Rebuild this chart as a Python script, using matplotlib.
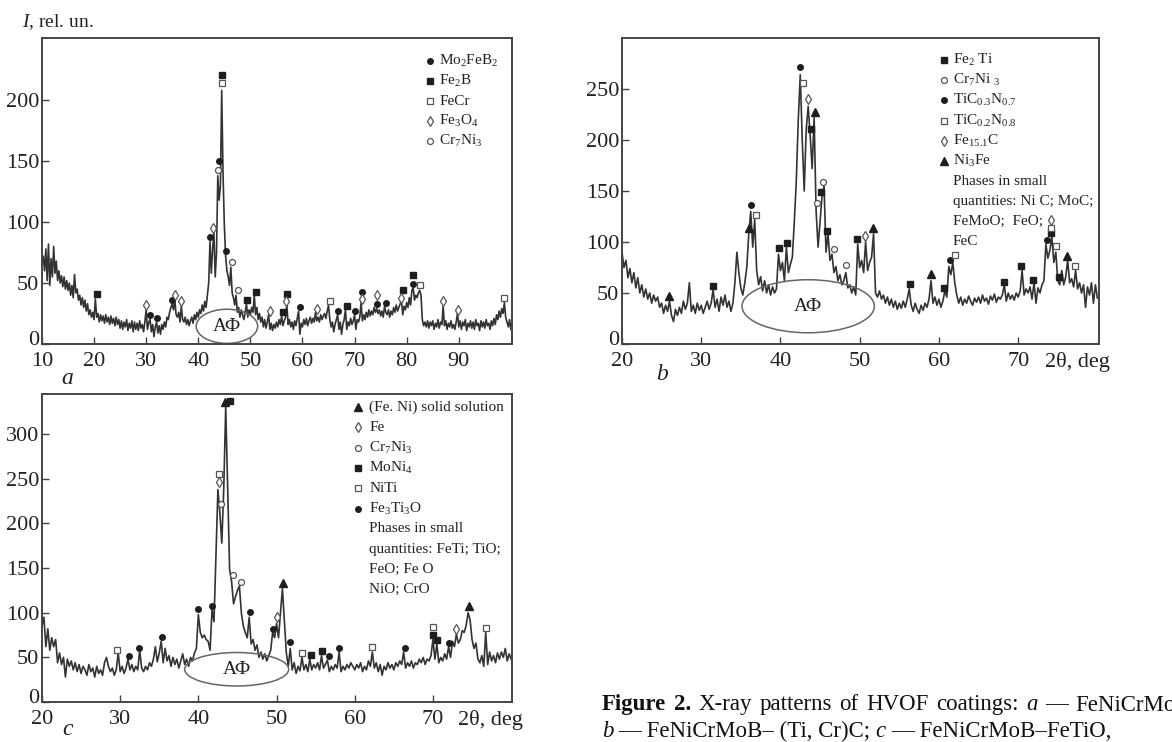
import numpy as np
import matplotlib
matplotlib.use('Agg')
from matplotlib import pyplot as plt
from matplotlib.patches import Ellipse
from matplotlib.transforms import ScaledTranslation

plt.rcParams['font.family'] = ['Liberation Serif', 'DejaVu Serif']
plt.rcParams['mathtext.fontset'] = 'custom'
plt.rcParams['mathtext.rm'] = 'Liberation Serif'
plt.rcParams['mathtext.it'] = 'Liberation Serif:italic'
plt.rcParams['mathtext.bf'] = 'Liberation Serif:bold'
plt.rcParams['mathtext.default'] = 'regular'

# ---------------- panel a: intensity every 0.25 deg from 10 deg ----------------
a_start, a_step = 10.0, 0.25
a_counts = [
    65, 72, 60, 78, 52, 82, 48, 70, 55, 80, 58, 68, 52, 60, 50, 56, 47, 55, 45, 52,
    44, 50, 40, 48, 38, 57, 42, 45, 36, 40, 32, 38, 30, 36, 27, 33, 24, 28, 22, 26,
    20, 37, 22, 25, 18, 24, 19, 23, 17, 24, 18, 22, 16, 23, 17, 21, 15, 22, 16, 20,
    13, 19, 12, 18, 14, 20, 11, 17, 13, 19, 10, 18, 12, 17, 11, 19, 13, 16, 10, 18,
    28, 12, 18, 20, 10, 16, 6, 14, 18, 9, 15, 8, 16, 12, 18, 14, 22, 20, 26, 30,
    33, 28, 36, 24, 22, 26, 18, 31, 20, 18, 22, 16, 20, 15, 19, 22, 17, 24, 20, 26,
    22, 28, 25, 32, 27, 35, 30, 40, 50, 84, 58, 78, 91, 55, 75, 138, 118, 130, 208, 140,
    98, 72, 60, 55, 48, 63, 42, 38, 32, 40, 26, 30, 22, 28, 24, 20, 26, 33, 22, 28,
    24, 30, 26, 40, 24, 30, 20, 25, 18, 22, 14, 20, 13, 18, 24, 12, 17, 11, 16, 13,
    18, 14, 20, 16, 23, 15, 19, 22, 32, 16, 20, 14, 18, 12, 19, 15, 21, 27, 8, 17,
    14, 20, 16, 21, 15, 19, 22, 17, 21, 18, 26, 19, 22, 18, 24, 20, 23, 25, 21, 27,
    32, 20, 14, 18, 10, 16, 20, 24, 12, 18, 8, 16, 20, 28, 12, 18, 15, 21, 16, 19,
    24, 12, 20, 18, 22, 34, 19, 24, 20, 26, 22, 28, 23, 27, 24, 30, 26, 29, 25, 28,
    23, 27, 22, 31, 26, 24, 28, 22, 27, 24, 30, 26, 32, 27, 30, 33, 35, 24, 31, 28,
    34, 30, 38, 32, 44, 46, 36, 40, 38, 42, 44, 40, 20, 15, 18, 14, 19, 13, 18, 15,
    19, 12, 17, 14, 20, 13, 18, 16, 31, 15, 19, 12, 17, 14, 19, 13, 16, 12, 18, 25,
    14, 19, 12, 18, 15, 20, 11, 17, 14, 19, 13, 18, 12, 20, 15, 17, 11, 19, 14, 18,
    13, 20, 15, 17, 12, 19, 15, 21, 16, 24, 20, 27, 22, 29, 25, 34, 22, 18, 14, 20,
    12,
]
a_mo2feb2 = [(30.7, 24), (32.1, 21), (35.0, 36), (42.2, 88), (43.9, 150), (45.4, 76),
             (59.6, 30), (66.9, 27), (70.0, 27), (71.5, 43), (74.3, 33), (76.0, 34), (81.3, 49)]
a_fe2b = [(20.5, 41), (44.6, 221), (49.4, 36), (51.0, 43), (56.2, 26), (57.1, 41),
          (68.5, 31), (79.2, 44), (81.3, 57)]
a_fecr = [(44.6, 214), (65.2, 35), (82.6, 48), (98.7, 38)]
a_fe3o4 = [(30.0, 32), (35.5, 40), (36.7, 35), (42.9, 95), (53.7, 27), (56.9, 35),
           (62.7, 29), (71.5, 37), (74.3, 40), (79.0, 38), (87.0, 35), (89.8, 28)]
a_cr7ni3 = [(43.8, 143), (46.4, 67), (47.6, 44)]

# ---------------- panel b ----------------
b_start, b_step = 20.0, 0.25
b_counts = [
    90, 75, 82, 65, 74, 60, 70, 55, 65, 50, 58, 46, 54, 44, 50, 40, 48, 42, 46, 36,
    40, 30, 38, 32, 42, 28, 22, 34, 28, 36, 30, 42, 34, 40, 60, 32, 38, 30, 40, 33,
    38, 30, 36, 42, 34, 40, 53, 36, 44, 32, 46, 38, 48, 36, 42, 32, 40, 60, 90, 70,
    55, 48, 60, 75, 108, 130, 95, 122, 72, 58, 66, 52, 62, 50, 58, 48, 56, 50, 54, 88,
    72, 80, 62, 95, 70, 78, 85, 120, 160, 220, 264, 200, 150, 210, 233, 205, 172, 222, 130, 95,
    120, 145, 155, 90, 108, 82, 88, 70, 76, 62, 68, 58, 62, 70, 55, 58, 50, 56, 48, 98,
    75, 82, 70, 100, 72, 80, 85, 108, 50, 46, 52, 44, 48, 40, 46, 38, 44, 36, 42, 34,
    40, 35, 42, 36, 44, 54, 38, 32, 40, 34, 30, 38, 33, 40, 36, 44, 62, 40, 46, 38,
    44, 36, 42, 52, 46, 76, 68, 80, 60, 48, 40, 46, 38, 44, 40, 47, 42, 38, 45, 41,
    46, 40, 48, 42, 45, 39, 47, 43, 49, 41, 46, 44, 48, 58, 42, 50, 44, 48, 43, 50,
    46, 52, 72, 48, 54, 50, 56, 44, 60, 40, 55, 50, 58, 62, 98, 84, 92, 105, 80, 90,
    62, 58, 72, 58, 66, 82, 60, 64, 56, 72, 54, 60, 50, 58, 36, 56, 48, 60, 40, 58,
    45,
]
b_fe2ti = [(31.5, 57), (39.8, 94), (40.8, 99), (43.9, 211), (45.1, 149), (45.9, 111),
           (49.6, 103), (56.3, 59), (60.7, 55), (68.2, 61), (70.4, 76), (71.9, 63),
           (74.2, 109), (75.1, 66)]
b_cr7ni3 = [(44.6, 138), (45.4, 159), (46.7, 93), (48.3, 77)]
b_tic37 = [(36.3, 136), (42.5, 272), (61.4, 82), (73.6, 102)]
b_tic28 = [(36.9, 126), (42.9, 256), (62.0, 87), (74.2, 114), (74.8, 96), (77.2, 76)]
b_fe151c = [(43.5, 240), (50.7, 106), (74.2, 122)]
b_ni3fe = [(25.9, 47), (36.0, 114), (44.4, 227), (51.7, 114), (59.0, 69), (76.2, 86)]

# ---------------- panel c ----------------
c_start, c_step = 20.0, 0.25
c_counts = [
    85, 95, 62, 82, 58, 72, 62, 70, 44, 55, 42, 50, 28, 48, 40, 46, 36, 44, 34, 42,
    32, 40, 36, 30, 42, 34, 38, 28, 40, 32, 36, 30, 44, 50, 40, 34, 38, 30, 36, 55,
    34, 40, 32, 38, 48, 36, 42, 34, 40, 36, 58, 38, 34, 40, 36, 44, 40, 48, 62, 45,
    55, 68, 44, 60, 46, 52, 40, 50, 42, 48, 38, 46, 54, 42, 48, 40, 50, 46, 55, 60,
    98, 78, 72, 75, 70, 68, 58, 104, 90, 165, 238, 212, 178, 240, 331, 240, 148, 135, 110, 118,
    125, 130, 100, 85, 78, 72, 95, 65, 70, 58, 64, 50, 56, 48, 54, 46, 52, 58, 78, 72,
    88, 72, 100, 127, 90, 55, 40, 60, 36, 44, 32, 40, 35, 50, 36, 42, 34, 48, 36, 42,
    38, 44, 36, 52, 38, 42, 47, 34, 40, 36, 42, 38, 56, 34, 40, 36, 42, 38, 44, 40,
    36, 42, 38, 44, 34, 40, 36, 46, 40, 56, 38, 44, 34, 42, 30, 40, 36, 44, 38, 42,
    36, 44, 40, 46, 42, 56, 38, 44, 40, 46, 38, 44, 42, 48, 44, 50, 42, 48, 46, 52,
    70, 48, 65, 44, 50, 46, 54, 48, 62, 50, 68, 62, 76, 66, 70, 80, 78, 86, 100, 92,
    70, 60, 66, 48, 44, 52, 40, 78, 42, 56, 46, 52, 44, 55, 48, 56, 50, 60, 46, 54,
    48,
]
c_feni = [(43.4, 336), (50.8, 133), (74.6, 108)]
c_fe = [(42.6, 246), (50.0, 95), (72.9, 82)]
c_cr7ni3 = [(42.9, 222), (44.4, 142), (45.4, 135)]
c_moni4 = [(44.0, 337), (54.4, 53), (55.8, 57), (70.0, 75), (70.5, 70)]
c_niti = [(42.6, 256), (29.6, 58), (53.2, 55), (62.2, 62), (70.0, 84), (76.8, 83)]
c_fe3ti3o = [(31.1, 52), (32.4, 61), (35.3, 73), (40.0, 104), (41.7, 108), (46.6, 101),
             (49.6, 82), (51.7, 67), (56.7, 52), (58.0, 61), (66.4, 61), (72.0, 66)]

# ---------------- marker styles ----------------
DARK = '#1e1e1e'
GREY = '#555555'
f_circle = dict(marker='o', ms=4.0, mfc=DARK, mec=DARK)
f_square = dict(marker='s', ms=4.5, mfc=DARK, mec=DARK)
o_square = dict(marker='s', ms=4.5, mfc='white', mec=GREY, mew=0.9)
o_diamond = dict(marker='d', ms=5.5, mfc='white', mec=GREY, mew=0.9)
o_circle = dict(marker='o', ms=4.3, mfc='white', mec=GREY, mew=0.9)
f_triangle = dict(marker='^', ms=5.8, mfc=DARK, mec=DARK)

KEY_SIZE = 11
TICK_SIZE = 16

fig = plt.figure(figsize=(11.72, 7.42), dpi=100)
ax_a = fig.add_axes([0.0358, 0.5364, 0.401, 0.4124])
ax_b = fig.add_axes([0.5307, 0.5364, 0.407, 0.4124])
ax_c = fig.add_axes([0.0358, 0.0539, 0.401, 0.415])


def draw_trace(ax, start, step, counts):
    x = start + step * np.arange(len(counts))
    ax.plot(x, counts, color='#333333', lw=1.2, zorder=2)


def draw_phase(ax, peaks, style):
    xs = [p[0] for p in peaks]
    ys = [p[1] for p in peaks]
    ax.plot(xs, ys, ls='none', zorder=3, clip_on=False, **style)


def setup(ax, xlim, ylim, xticks, yticks):
    ax.set_xlim(*xlim)
    ax.set_ylim(*ylim)
    ax.set_xticks(xticks)
    ax.set_yticks(yticks)
    ax.tick_params(direction='in', length=5, width=1, color='#444', labelsize=TICK_SIZE,
                   labelcolor='#222', top=False, right=False)
    ax.tick_params(axis='x', pad=6)
    ax.tick_params(axis='y', pad=2)
    for s in ax.spines.values():
        s.set_linewidth(1.4)
        s.set_color('#444')
    # the zero label sits a little above the corner, as in the print
    zero = ax.get_yticklabels()[0]
    zero.set_transform(zero.get_transform() + ScaledTranslation(0, 4 / 72, fig.dpi_scale_trans))


def draw_key(ax, mx, tx, y0, dy, entries, notes=()):
    for i, (label, style) in enumerate(entries):
        y = y0 - i * dy
        ax.plot([mx], [y], transform=ax.transAxes, ls='none', clip_on=False, **style)
        ax.text(tx, y, label, transform=ax.transAxes, va='center', ha='left',
                fontsize=KEY_SIZE, color='#222')
    for j, line in enumerate(notes):
        y = y0 - (len(entries) + j) * dy
        ax.text(tx, y, line, transform=ax.transAxes, va='center', ha='left',
                fontsize=KEY_SIZE, color='#222')


def amorphous(ax, cx, cy, w, h):
    ax.add_patch(Ellipse((cx, cy), w, h, fill=False, ec='#666', lw=1.1, zorder=2))
    ax.text(cx, cy, 'АФ', ha='center', va='center', fontsize=14, color='#222')


# ---- a ----
draw_trace(ax_a, a_start, a_step, a_counts)
draw_phase(ax_a, a_mo2feb2, f_circle)
draw_phase(ax_a, a_fe2b, f_square)
draw_phase(ax_a, a_fecr, o_square)
draw_phase(ax_a, a_fe3o4, o_diamond)
draw_phase(ax_a, a_cr7ni3, o_circle)
setup(ax_a, (10, 100.2), (0, 251), range(10, 100, 10), range(0, 201, 50))
amorphous(ax_a, 45.5, 14.5, 11.8, 28)
draw_key(ax_a, 0.826, 0.845, 0.925, 0.0655, [
    ('Mo$_2$FeB$_2$', f_circle), ('Fe$_2$B', f_square), ('FeCr', o_square),
    ('Fe$_3$O$_4$', o_diamond), ('Cr$_7$Ni$_3$', o_circle)])
ax_a.text(0.053, -0.112, 'a', transform=ax_a.transAxes, fontsize=17, style='italic',
          ha='center', va='center', color='#222')
fig.text(22 / 1172, 1 - 22 / 742, '$\\mathit{I}$, rel. un.', fontsize=14,
         ha='left', va='center', color='#222')

# ---- b ----
draw_trace(ax_b, b_start, b_step, b_counts)
draw_phase(ax_b, b_fe2ti, f_square)
draw_phase(ax_b, b_cr7ni3, o_circle)
draw_phase(ax_b, b_tic37, f_circle)
draw_phase(ax_b, b_tic28, o_square)
draw_phase(ax_b, b_fe151c, o_diamond)
draw_phase(ax_b, b_ni3fe, f_triangle)
setup(ax_b, (20, 80.2), (0, 300), range(20, 71, 10), range(0, 251, 50))
amorphous(ax_b, 43.5, 37, 16.7, 52)
draw_key(ax_b, 0.675, 0.694, 0.928, 0.066, [
    ('Fe$_2$ Ti', f_square), ('Cr$_7$Ni $_3$', o_circle), ('TiC$_{0.3}$N$_{0.7}$', f_circle),
    ('TiC$_{0.2}$N$_{0.8}$', o_square), ('Fe$_{15.1}$C', o_diamond), ('Ni$_3$Fe', f_triangle)],
    ['Phases in small', 'quantities: Ni C; MoC;', 'FeMoO;  FeO;', 'FeC'])
ax_b.text(0.954, -0.026, '2θ, deg', transform=ax_b.transAxes, fontsize=TICK_SIZE,
          ha='center', va='top', color='#222')
ax_b.text(0.084, -0.101, 'b', transform=ax_b.transAxes, fontsize=17, style='italic',
          ha='center', va='center', color='#222')

# ---- c ----
draw_trace(ax_c, c_start, c_step, c_counts)
draw_phase(ax_c, c_feni, f_triangle)
draw_phase(ax_c, c_fe, o_diamond)
draw_phase(ax_c, c_cr7ni3, o_circle)
draw_phase(ax_c, c_moni4, f_square)
draw_phase(ax_c, c_niti, o_square)
draw_phase(ax_c, c_fe3ti3o, f_circle)
setup(ax_c, (20, 80.1), (0, 345), range(20, 71, 10), range(0, 301, 50))
amorphous(ax_c, 44.9, 36.7, 13.3, 37.5)
draw_key(ax_c, 0.672, 0.696, 0.958, 0.066, [
    ('(Fe. Ni) solid solution', f_triangle), ('Fe', o_diamond), ('Cr$_7$Ni$_3$', o_circle),
    ('MoNi$_4$', f_square), ('NiTi', o_square), ('Fe$_3$Ti$_3$O', f_circle)],
    ['Phases in small', 'quantities: FeTi; TiO;', 'FeO; Fe O', 'NiO; CrO'])
ax_c.text(0.955, -0.026, '2θ, deg', transform=ax_c.transAxes, fontsize=TICK_SIZE,
          ha='center', va='top', color='#222')
ax_c.text(0.055, -0.09, 'c', transform=ax_c.transAxes, fontsize=17, style='italic',
          ha='center', va='center', color='#222')

# ---- caption (first line runs off the right edge, as in the source page) ----
fig.canvas.draw()
renderer = fig.canvas.get_renderer()


def caption_line(x_px, y_px, pieces, gap):
    x = x_px
    for text, style in pieces:
        t = fig.text(x / 1172, 1 - y_px / 742, text, fontsize=16.5, ha='left',
                     va='baseline', color='#111', **style)
        bb = t.get_window_extent(renderer=renderer)
        x = bb.x1 + gap


bold = dict(weight='bold')
ital = dict(style='italic')
caption_line(602, 710, [('Figure', bold), ('2.', bold), ('X-ray', {}), ('patterns', {}),
                        ('of', {}), ('HVOF', {}), ('coatings:', {}), ('a', ital),
                        ('—', {}), ('FeNiCrMoB;', {})], 7.5)
caption_line(602, 737, [('b', ital), ('— FeNiCrMoB– (Ti, Cr)C;', {}),
                        ('c', ital), ('— FeNiCrMoB–FeTiO,', {})], 5)

fig.savefig('out.png', dpi=100)
